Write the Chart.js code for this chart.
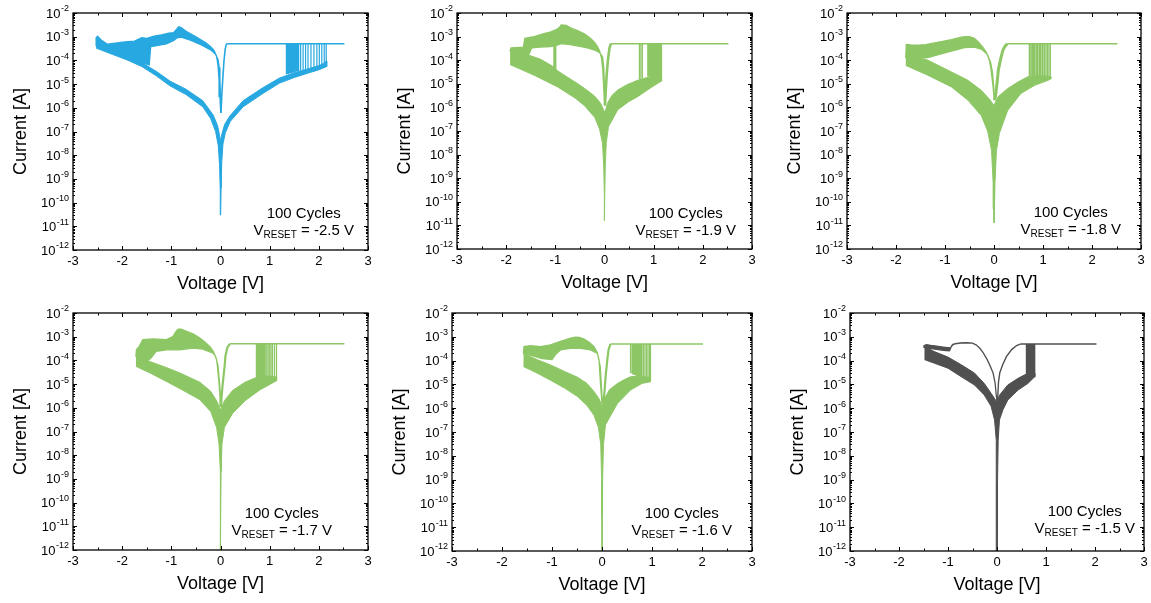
<!DOCTYPE html>
<html>
<head>
<meta charset="utf-8">
<title>Resistive switching I-V, 100 cycles</title>
<script src="https://cdn.jsdelivr.net/npm/chart.js@4.4.1/dist/chart.umd.min.js"></script>
<style>
  body { margin: 0; background: #fff; }
  #wrap { position: relative; width: 1151px; height: 603px; overflow: hidden; }
  #wrap canvas { position: absolute; }
</style>
</head>
<body>
<div id="wrap"></div>
<script>
// ---- shared values ----
const resetVoltages = [-2.5, -1.9, -1.8, -1.7, -1.6, -1.5];
const cycleCount = 100;
const complianceCurrent = 5e-4;
const complianceFrom = [0.12, 0.13, 0.27, 0.19, 0.17, 0.49];
const sweepTo = [2.52, 2.52, 2.52, 2.52, 2.02, 2.03];
const voltageTicks = [-3, -2, -1, 0, 1, 2, 3];
const currentDecades = [-2, -3, -4, -5, -6, -7, -8, -9, -10, -11, -12];

// ---- V_RESET = -2.5 V ----  [V, A]
const p1LrsHi = [[0.004, 6e-7], [-0.012, 3e-6], [-0.03, 1.5e-5], [-0.05, 6e-5], [-0.08, 1.5e-4], [-0.13, 2.6e-4], [-0.2, 3.8e-4], [-0.3, 5.6e-4], [-0.5, 1e-3], [-0.7, 1.7e-3], [-0.8, 2.4e-3], [-0.85, 2.6e-3], [-0.9, 2e-3], [-0.95, 1.5e-3], [-1.05, 1.4e-3], [-1.2, 1.2e-3], [-1.35, 1.05e-3], [-1.5, 8.5e-4], [-1.6, 9e-4], [-1.75, 6.5e-4], [-1.95, 6e-4], [-2.1, 5.5e-4], [-2.3, 4.8e-4], [-2.42, 7e-4], [-2.5, 1.05e-3], [-2.53, 9e-4], [-2.53, 4.2e-4]];
const p1LrsLo = [[0.008, 6e-7], [0.0, 3e-6], [-0.012, 1.5e-5], [-0.025, 5e-5], [-0.05, 1.1e-4], [-0.1, 1.8e-4], [-0.2, 2.8e-4], [-0.4, 4.6e-4], [-0.6, 7e-4], [-0.8, 9.5e-4], [-0.88, 9e-4], [-0.95, 7e-4], [-1.1, 5e-4], [-1.3, 4.2e-4], [-1.42, 3.8e-4], [-1.45, 6.5e-5], [-1.6, 8e-5], [-1.9, 1.45e-4], [-2.2, 2.4e-4], [-2.53, 4.2e-4]];
const p1HrsIn = [[-2.53, 4.2e-4], [-2.2, 2.4e-4], [-1.9, 1.45e-4], [-1.6, 8e-5], [-1.3, 3.4e-5], [-1.03, 1.35e-5], [-0.7, 6e-6], [-0.36, 2e-6], [-0.15, 5e-7], [-0.06, 1.8e-7], [-0.02, 7e-8], [0.0, 4e-8], [0.03, 8e-8], [0.085, 2e-7], [0.19, 4.5e-7], [0.46, 2e-6], [0.86, 7e-6], [1.2, 1.8e-5], [1.5, 3e-5], [1.8, 4.5e-5], [2.0, 6e-5], [2.1, 7.5e-5], [2.16, 9.5e-5]];
const p1HrsOut = [[-2.53, 3.3e-4], [-2.2, 1.8e-4], [-1.9, 1.05e-4], [-1.6, 5.5e-5], [-1.3, 2.2e-5], [-1.03, 8.5e-6], [-0.7, 3.6e-6], [-0.36, 1.1e-6], [-0.2, 3.5e-7], [-0.1, 1e-7], [-0.045, 2.5e-8], [-0.02, 4e-9], [-0.008, 3e-10], [-0.002, 3e-11], [0.004, 3e-11], [0.012, 4e-10], [0.025, 5e-9], [0.05, 3e-8], [0.1, 9e-8], [0.2, 2.7e-7], [0.46, 1.1e-6], [0.86, 4e-6], [1.2, 1.1e-5], [1.5, 1.9e-5], [1.8, 3e-5], [2.0, 4e-5], [2.16, 5.5e-5]];
const p1Dip = [[0.12, 5e-4], [0.095, 3e-4], [0.07, 9e-5], [0.045, 1.5e-5], [0.025, 3e-6], [0.01, 6e-7]];
const p1SetV = [1.34, 1.35, 1.36, 1.37, 1.38, 1.39, 1.4, 1.41, 1.42, 1.44, 1.45, 1.47, 1.48, 1.5, 1.51, 1.53, 1.55, 1.57, 1.59, 1.63, 1.68, 1.73, 1.78, 1.84, 1.9, 1.96, 2.01, 2.06, 2.11, 2.15];
const p1SetI = [2.6e-5, 2.6e-5, 2.7e-5, 2.7e-5, 2.7e-5, 2.8e-5, 2.8e-5, 2.8e-5, 2.9e-5, 2.9e-5, 3e-5, 3e-5, 3.1e-5, 3.1e-5, 3.2e-5, 3.3e-5, 3.4e-5, 3.4e-5, 3.5e-5, 3.7e-5, 3.9e-5, 4.1e-5, 4.3e-5, 4.6e-5, 4.9e-5, 5.2e-5, 5.6e-5, 6e-5, 6.8e-5, 7.8e-5];

// ---- V_RESET = -1.9 V ----
const p2LrsHi = [[0.0, 1.2e-6], [-0.015, 6e-6], [-0.035, 4e-5], [-0.06, 1.2e-4], [-0.1, 2.5e-4], [-0.15, 4e-4], [-0.21, 6e-4], [-0.3, 9e-4], [-0.41, 1.3e-3], [-0.55, 1.8e-3], [-0.68, 2.3e-3], [-0.78, 3e-3], [-0.88, 3.1e-3], [-0.92, 2.4e-3], [-0.96, 2.1e-3], [-1.09, 1.6e-3], [-1.25, 1.3e-3], [-1.43, 1e-3], [-1.62, 8.5e-4], [-1.65, 3.6e-4], [-1.9, 3.3e-4], [-1.92, 2.5e-4]];
const p2LrsLo = [[0.008, 1.2e-6], [-0.002, 8e-6], [-0.015, 5e-5], [-0.04, 1.4e-4], [-0.1, 2.1e-4], [-0.2, 2.7e-4], [-0.35, 3.3e-4], [-0.5, 3.9e-4], [-0.7, 4.6e-4], [-0.88, 5e-4], [-0.98, 4.2e-4], [-1.1, 3.8e-4], [-1.3, 3.6e-4], [-1.48, 3.3e-4], [-1.55, 1.6e-4], [-1.75, 2.1e-4], [-1.92, 2.5e-4]];
const p2HrsIn = [[-1.92, 2.8e-4], [-1.6, 1.8e-4], [-1.3, 1.1e-4], [-1.02, 5e-5], [-0.95, 3.5e-5], [-0.8, 2.2e-5], [-0.6, 1.2e-5], [-0.41, 6.5e-6], [-0.2, 3e-6], [-0.08, 1.5e-6], [-0.02, 8e-7], [0.01, 6e-7], [0.06, 1.5e-6], [0.15, 3.2e-6], [0.27, 5.5e-6], [0.45, 9e-6], [0.67, 1.4e-5], [0.85, 1.8e-5], [1.0, 2e-5], [1.16, 1.9e-5]];
const p2HrsOut = [[-1.92, 6.5e-5], [-1.43, 2.3e-5], [-0.95, 7.3e-6], [-0.6, 2.5e-6], [-0.41, 1.2e-6], [-0.2, 3.8e-7], [-0.1, 1.2e-7], [-0.04, 3e-8], [-0.015, 3e-9], [-0.005, 2e-10], [0.0, 1.6e-11], [0.005, 2e-10], [0.015, 3e-9], [0.035, 3e-8], [0.08, 1.5e-7], [0.27, 8e-7], [0.5, 1.8e-6], [0.67, 2.8e-6], [0.95, 7e-6], [1.1, 1.1e-5], [1.16, 1.3e-5]];
const p2Dip = [[0.13, 5e-4], [0.1, 3.2e-4], [0.07, 1e-4], [0.045, 2.5e-5], [0.025, 5e-6], [0.01, 1.2e-6]];
const p2SetV = [0.71, 0.74, 0.77, 0.88, 0.9, 0.92, 0.94, 0.96, 0.98, 1.0, 1.02, 1.04, 1.06, 1.08, 1.1, 1.12, 1.14, 1.16];
const p2SetI = [1.6e-5, 1.6e-5, 1.7e-5, 2e-5, 2e-5, 1.9e-5, 1.9e-5, 1.8e-5, 1.8e-5, 1.7e-5, 1.6e-5, 1.5e-5, 1.5e-5, 1.4e-5, 1.4e-5, 1.3e-5, 1.3e-5, 1.3e-5];
const p2ResetV = [-0.99, -1.01, -1.03];
const p2ResetHi = [4.3e-4, 4.1e-4, 4e-4];
const p2ResetLo = [4e-5, 4.5e-5, 5e-5];

// ---- V_RESET = -1.8 V ----
const p3LrsHi = [[0.005, 2e-6], [-0.02, 8e-6], [-0.06, 4e-5], [-0.1, 1.1e-4], [-0.16, 2.2e-4], [-0.23, 3.6e-4], [-0.32, 6e-4], [-0.4, 8.5e-4], [-0.5, 1e-3], [-0.58, 1e-3], [-0.67, 9.5e-4], [-0.87, 7.4e-4], [-1.05, 6.2e-4], [-1.21, 5.4e-4], [-1.4, 4.6e-4], [-1.55, 4.3e-4], [-1.7, 4.4e-4], [-1.79, 4.6e-4], [-1.8, 1.3e-4]];
const p3LrsLo = [[0.012, 2e-6], [-0.008, 8e-6], [-0.03, 3e-5], [-0.07, 8e-5], [-0.13, 1.7e-4], [-0.25, 2.9e-4], [-0.4, 3.6e-4], [-0.6, 3.4e-4], [-0.85, 2.5e-4], [-1.1, 1.8e-4], [-1.35, 1.3e-4], [-1.6, 1.2e-4], [-1.8, 1.3e-4]];
const p3HrsIn = [[-1.8, 1.9e-4], [-1.6, 1.4e-4], [-1.35, 1e-4], [-1.1, 5.5e-5], [-0.87, 3.2e-5], [-0.53, 1.4e-5], [-0.26, 5.3e-6], [-0.09, 2.2e-6], [0.0, 1.2e-6], [0.08, 2.8e-6], [0.28, 6.3e-6], [0.49, 1.2e-5], [0.69, 2e-5], [0.83, 2.3e-5], [1.0, 2.2e-5], [1.16, 2e-5]];
const p3HrsOut = [[-1.8, 6e-5], [-1.35, 2.3e-5], [-0.87, 7.4e-6], [-0.53, 2e-6], [-0.26, 4.5e-7], [-0.13, 1e-7], [-0.05, 1.5e-8], [-0.017, 6e-10], [-0.004, 5e-11], [0.0, 1.3e-11], [0.004, 5e-11], [0.02, 6e-10], [0.05, 1.5e-8], [0.11, 8e-8], [0.28, 7.5e-7], [0.55, 3.9e-6], [0.83, 8.6e-6], [1.1, 1.4e-5], [1.16, 1.6e-5]];
const p3Dip = [[0.27, 5e-4], [0.22, 3.8e-4], [0.18, 2.6e-4], [0.13, 1e-4], [0.09, 4e-5], [0.06, 1e-5], [0.03, 3e-6], [0.012, 2e-6]];
const p3SetV = [0.72, 0.74, 0.77, 0.79, 0.81, 0.83, 0.86, 0.88, 0.9, 0.93, 0.95, 0.98, 1.0, 1.03, 1.06, 1.09, 1.12, 1.15];
const p3SetI = [2e-5, 2.1e-5, 2.2e-5, 2.3e-5, 2.3e-5, 2.3e-5, 2.3e-5, 2.2e-5, 2.2e-5, 2.2e-5, 2.1e-5, 2.1e-5, 2e-5, 2e-5, 1.9e-5, 1.8e-5, 1.7e-5, 1.6e-5];

// ---- V_RESET = -1.7 V ----
const p4LrsHi = [[0.0, 1.1e-6], [-0.01, 3e-6], [-0.03, 1.1e-5], [-0.06, 5e-5], [-0.08, 1.1e-4], [-0.15, 2.5e-4], [-0.22, 3.9e-4], [-0.32, 6e-4], [-0.42, 8.8e-4], [-0.55, 1.3e-3], [-0.69, 1.7e-3], [-0.8, 2.1e-3], [-0.86, 2.1e-3], [-0.9, 1.7e-3], [-0.97, 1e-3], [-1.1, 7.5e-4], [-1.37, 8e-4], [-1.58, 7.5e-4], [-1.65, 4e-4], [-1.71, 2.8e-4], [-1.72, 1.5e-4]];
const p4LrsLo = [[0.01, 1.1e-6], [0.0, 3e-6], [-0.02, 1.1e-5], [-0.05, 6e-5], [-0.1, 1.5e-4], [-0.15, 2e-4], [-0.36, 3e-4], [-0.56, 3.3e-4], [-0.83, 2.8e-4], [-1.1, 2.8e-4], [-1.31, 2.4e-4], [-1.41, 1.3e-4], [-1.5, 9e-5], [-1.72, 1.5e-4]];
const p4HrsIn = [[-1.72, 1.6e-4], [-1.44, 9e-5], [-1.1, 5e-5], [-0.8, 2.8e-5], [-0.42, 1.2e-5], [-0.2, 5e-6], [-0.08, 2e-6], [0.0, 8e-7], [0.08, 2e-6], [0.25, 5.5e-6], [0.5, 1.2e-5], [0.7, 1.8e-5], [0.82, 2.2e-5], [0.95, 2.2e-5], [1.14, 2e-5]];
const p4HrsOut = [[-1.72, 5.6e-5], [-1.44, 3e-5], [-1.1, 1.3e-5], [-0.8, 6e-6], [-0.42, 2.2e-6], [-0.2, 7e-7], [-0.08, 1.5e-7], [-0.03, 3e-8], [-0.01, 2e-9], [-0.003, 5e-11], [-0.001, 8e-13], [0.003, 8e-13], [0.005, 5e-11], [0.012, 2e-9], [0.03, 3e-8], [0.08, 1.5e-7], [0.25, 6e-7], [0.5, 2e-6], [0.8, 5.7e-6], [0.93, 8e-6], [1.14, 1.4e-5]];
const p4Dip = [[0.19, 5e-4], [0.14, 3.5e-4], [0.1, 1.5e-4], [0.085, 6e-5], [0.06, 2e-5], [0.04, 8e-6], [0.02, 2.5e-6], [0.01, 1.1e-6]];
const p4SetV = [0.73, 0.75, 0.77, 0.79, 0.81, 0.83, 0.85, 0.87, 0.89, 0.91, 0.94, 0.97, 1.0, 1.03, 1.06, 1.1, 1.14];
const p4SetI = [1.8e-5, 1.9e-5, 2e-5, 2e-5, 2.1e-5, 2.2e-5, 2.2e-5, 2.2e-5, 2.2e-5, 2.1e-5, 2e-5, 1.9e-5, 1.8e-5, 1.7e-5, 1.6e-5, 1.5e-5, 1.4e-5];

// ---- V_RESET = -1.6 V ----
const p5LrsHi = [[0.0, 1.5e-6], [-0.01, 3e-6], [-0.03, 1.1e-5], [-0.06, 1.1e-4], [-0.1, 2.3e-4], [-0.16, 3.9e-4], [-0.25, 5.8e-4], [-0.36, 8e-4], [-0.45, 9.5e-4], [-0.53, 9.7e-4], [-0.63, 8.8e-4], [-0.83, 6.4e-4], [-1.03, 4.6e-4], [-1.23, 3.9e-4], [-1.43, 4.2e-4], [-1.56, 3.9e-4], [-1.57, 2e-4]];
const p5LrsLo = [[0.008, 1.5e-6], [0.0, 3e-6], [-0.015, 1.1e-5], [-0.035, 5.6e-5], [-0.09, 2e-4], [-0.23, 2.8e-4], [-0.43, 3.3e-4], [-0.63, 3.3e-4], [-0.83, 2.8e-4], [-0.93, 1.8e-4], [-1.0, 1.1e-4], [-1.2, 1.2e-4], [-1.4, 1.6e-4], [-1.57, 2e-4]];
const p5HrsIn = [[-1.57, 2e-4], [-1.3, 1.1e-4], [-1.03, 6.6e-5], [-0.75, 3.5e-5], [-0.49, 2e-5], [-0.3, 1.1e-5], [-0.16, 5e-6], [-0.06, 2.5e-6], [0.0, 1.2e-6], [0.05, 2.5e-6], [0.15, 6e-6], [0.31, 1.1e-5], [0.45, 1.6e-5], [0.57, 2.1e-5], [0.75, 2.2e-5], [0.97, 2e-5]];
const p5HrsOut = [[-1.57, 5.6e-5], [-1.3, 3e-5], [-1.03, 1.5e-5], [-0.75, 7e-6], [-0.49, 3.1e-6], [-0.3, 1.3e-6], [-0.16, 5e-7], [-0.07, 1.5e-7], [-0.025, 3e-8], [-0.008, 1e-9], [-0.002, 3e-11], [0.0, 8e-13], [0.003, 8e-13], [0.006, 3e-11], [0.012, 1e-9], [0.03, 3e-8], [0.07, 2e-7], [0.31, 1.6e-6], [0.57, 5.8e-6], [0.8, 1.1e-5], [0.97, 1.3e-5]];
const p5Dip = [[0.17, 5e-4], [0.13, 2.8e-4], [0.107, 1.1e-4], [0.085, 4e-5], [0.067, 1.5e-5], [0.05, 5e-6], [0.035, 2.2e-6], [0.01, 1.5e-6]];
const p5SetV = [0.57, 0.6, 0.62, 0.64, 0.66, 0.68, 0.7, 0.72, 0.74, 0.76, 0.78, 0.8, 0.83, 0.86, 0.89, 0.92, 0.95, 0.97];
const p5SetI = [3e-5, 2.8e-5, 2.6e-5, 2.5e-5, 2.4e-5, 2.3e-5, 2.2e-5, 2.2e-5, 2.1e-5, 2.1e-5, 2e-5, 2e-5, 1.9e-5, 1.8e-5, 1.7e-5, 1.6e-5, 1.5e-5, 1.4e-5];

// ---- V_RESET = -1.5 V ----
const p6LrsHi = [[0.0, 2e-6], [-0.015, 3.5e-6], [-0.04, 1.2e-5], [-0.08, 3e-5], [-0.14, 6e-5], [-0.2, 1.1e-4], [-0.28, 2.1e-4], [-0.35, 3.3e-4], [-0.42, 4.5e-4], [-0.5, 5.4e-4], [-0.62, 5.7e-4], [-0.75, 5.5e-4], [-0.85, 5.2e-4], [-0.9, 4.8e-4], [-0.95, 3.4e-4], [-1.1, 3.7e-4], [-1.3, 4.2e-4], [-1.44, 4.7e-4], [-1.49, 4.2e-4]];
const p6LrsLo = [[0.0, 2e-6], [-0.015, 3.5e-6], [-0.04, 1.2e-5], [-0.08, 3e-5], [-0.14, 6e-5], [-0.2, 1.1e-4], [-0.28, 2.1e-4], [-0.35, 3.3e-4], [-0.42, 4.5e-4], [-0.5, 5.4e-4], [-0.62, 5.6e-4], [-0.75, 5.4e-4], [-0.85, 5.1e-4], [-0.92, 4.4e-4], [-0.97, 2.6e-4], [-1.1, 2.7e-4], [-1.3, 3.1e-4], [-1.49, 3.6e-4]];
const p6HrsIn = [[-1.48, 3.9e-4], [-1.28, 2.4e-4], [-1.0, 1.4e-4], [-0.73, 6.7e-5], [-0.46, 3e-5], [-0.26, 1.1e-5], [-0.12, 4.2e-6], [-0.03, 2.2e-6], [0.0, 1.8e-6], [0.05, 3.5e-6], [0.22, 9.5e-6], [0.43, 1.8e-5], [0.56, 2.5e-5], [0.62, 2.8e-5], [0.77, 3e-5]];
const p6HrsOut = [[-1.48, 1.1e-4], [-1.28, 7.8e-5], [-1.0, 4.8e-5], [-0.73, 2.1e-5], [-0.46, 9.5e-6], [-0.26, 3.6e-6], [-0.12, 1.2e-6], [-0.05, 3.2e-7], [-0.02, 4.5e-8], [-0.01, 7e-10], [-0.004, 8e-13], [0.004, 8e-13], [0.01, 7e-10], [0.024, 4.5e-8], [0.05, 3.2e-7], [0.12, 8.5e-7], [0.22, 2.2e-6], [0.43, 5.8e-6], [0.63, 1.1e-5], [0.77, 2.1e-5]];
const p6Dip = [[0.49, 5e-4], [0.4, 4.3e-4], [0.3, 2.9e-4], [0.195, 1.5e-4], [0.12, 7e-5], [0.057, 3.1e-5], [0.03, 1.2e-5], [0.016, 3e-6], [0.005, 2e-6]];
const p6SetV = [0.6, 0.62, 0.64, 0.66, 0.68, 0.7, 0.72, 0.74, 0.76, 0.77];
const p6SetI = [2.6e-5, 2.5e-5, 2.4e-5, 2.3e-5, 2.3e-5, 2.2e-5, 2.2e-5, 2.1e-5, 2.1e-5, 2e-5];

const BLUE = '#27a8e0';
const GREEN = '#8dc765';
const GRAY = '#505050';
const FONT = '"Liberation Sans", Arial, Helvetica, sans-serif';

// canvas box, plot padding, colour and note placement for each panel
const panels = [
  { box: [0, 0, 384, 300], pad: { left: 73, top: 13, right: 16, bottom: 50 }, color: BLUE, dipWidth: 1.6, noteRight: 14, noteLift: 20,
    lrsHi: p1LrsHi, lrsLo: p1LrsLo, hrsIn: p1HrsIn, hrsOut: p1HrsOut, dip: p1Dip, setV: p1SetV, setI: p1SetI },
  { box: [384, 0, 384, 300], pad: { left: 73, top: 13, right: 16, bottom: 51 }, color: GREEN, dipWidth: 2.6, noteRight: 16, noteLift: 19,
    lrsHi: p2LrsHi, lrsLo: p2LrsLo, hrsIn: p2HrsIn, hrsOut: p2HrsOut, dip: p2Dip, setV: p2SetV, setI: p2SetI,
    resetV: p2ResetV, resetHi: p2ResetHi, resetLo: p2ResetLo },
  { box: [768, 0, 383, 300], pad: { left: 79, top: 13, right: 10, bottom: 51 }, color: GREEN, dipWidth: 3, noteRight: 20, noteLift: 20,
    lrsHi: p3LrsHi, lrsLo: p3LrsLo, hrsIn: p3HrsIn, hrsOut: p3HrsOut, dip: p3Dip, setV: p3SetV, setI: p3SetI },
  { box: [0, 300, 384, 303], pad: { left: 73, top: 13, right: 16, bottom: 53 }, color: GREEN, dipWidth: 2.2, noteRight: 36, noteLift: 20,
    lrsHi: p4LrsHi, lrsLo: p4LrsLo, hrsIn: p4HrsIn, hrsOut: p4HrsOut, dip: p4Dip, setV: p4SetV, setI: p4SetI },
  { box: [384, 300, 384, 303], pad: { left: 68, top: 13, right: 16, bottom: 52 }, color: GREEN, dipWidth: 2.2, noteRight: 20, noteLift: 21,
    lrsHi: p5LrsHi, lrsLo: p5LrsLo, hrsIn: p5HrsIn, hrsOut: p5HrsOut, dip: p5Dip, setV: p5SetV, setI: p5SetI },
  { box: [768, 300, 383, 303], pad: { left: 82, top: 13, right: 7, bottom: 52 }, color: GRAY, dipWidth: 1.4, noteRight: 9, noteLift: 23,
    lrsHi: p6LrsHi, lrsLo: p6LrsLo, hrsIn: p6HrsIn, hrsOut: p6HrsOut, dip: p6Dip, setV: p6SetV, setI: p6SetI }
];

const xy = list => list.map(([v, i]) => ({ x: v, y: i }));
const outline = (a, b) => xy(a.concat(b.slice().reverse()));
const verticals = (vs, from, to) => {
  const out = [];
  vs.forEach((v, k) => out.push({ x: v, y: from[k] }, { x: v, y: Array.isArray(to) ? to[k] : to }, { x: v, y: null }));
  return out;
};

// frame, inward ticks, tick labels, axis titles and the cycle note
const framePlugin = {
  id: 'frame',
  afterDraw(chart, _args, opts) {
    const { ctx, chartArea: a } = chart;
    const xs = chart.scales.x, ys = chart.scales.y;
    ctx.save();
    ctx.strokeStyle = '#000';
    ctx.fillStyle = '#000';
    ctx.lineWidth = 1;
    ctx.beginPath();
    const vTick = (px, len) => {
      ctx.moveTo(px, a.bottom); ctx.lineTo(px, a.bottom - len);
      ctx.moveTo(px, a.top); ctx.lineTo(px, a.top + len);
    };
    const hTick = (py, len) => {
      ctx.moveTo(a.left, py); ctx.lineTo(a.left + len, py);
      ctx.moveTo(a.right, py); ctx.lineTo(a.right - len, py);
    };
    voltageTicks.forEach((v, k) => {
      vTick(Math.round(xs.getPixelForValue(v)) + 0.5, 4);
      if (k < voltageTicks.length - 1) {
        vTick(Math.round(xs.getPixelForValue((v + voltageTicks[k + 1]) / 2)) + 0.5, 2.5);
      }
    });
    currentDecades.forEach(e => {
      hTick(Math.round(ys.getPixelForValue(Math.pow(10, e))) + 0.5, 4);
      if (e < -2) {
        for (let m = 2; m <= 9; m++) hTick(Math.round(ys.getPixelForValue(m * Math.pow(10, e))) + 0.5, 2);
      }
    });
    ctx.stroke();

    ctx.lineWidth = 1.3;
    ctx.strokeRect(a.left, a.top, a.right - a.left, a.bottom - a.top);

    // voltage labels
    ctx.font = '13px ' + FONT;
    ctx.textAlign = 'center';
    ctx.textBaseline = 'middle';
    voltageTicks.forEach(v => ctx.fillText(String(v), xs.getPixelForValue(v), a.bottom + 11));

    // current labels as 10 with a raised exponent
    ctx.textAlign = 'right';
    currentDecades.forEach(e => {
      const py = ys.getPixelForValue(Math.pow(10, e));
      ctx.font = '9px ' + FONT;
      const sup = String(e);
      const w = ctx.measureText(sup).width;
      ctx.fillText(sup, a.left - 4, py - 4);
      ctx.font = '13px ' + FONT;
      ctx.fillText('10', a.left - 4.5 - w, py + 1);
    });

    // axis titles
    ctx.font = '18px ' + FONT;
    ctx.textAlign = 'center';
    ctx.fillText('Voltage [V]', (a.left + a.right) / 2, a.bottom + 34);
    ctx.save();
    ctx.translate(a.left - 52, (a.top + a.bottom) / 2);
    ctx.rotate(-Math.PI / 2);
    ctx.fillText('Current [A]', 0, 0);
    ctx.restore();

    // note: cycle count and reset voltage
    const right = a.right - opts.noteRight;
    const baseY = a.bottom - opts.noteLift + 5;
    const tail = ' = ' + opts.vReset.toFixed(1) + ' V';
    ctx.textBaseline = 'alphabetic';
    ctx.textAlign = 'left';
    ctx.font = '15px ' + FONT;
    const wV = ctx.measureText('V').width;
    const wTail = ctx.measureText(tail).width;
    ctx.font = '10px ' + FONT;
    const wSub = ctx.measureText('RESET').width;
    const total = wV + wSub + wTail;
    const start = right - total;
    ctx.font = '15px ' + FONT;
    ctx.fillText('V', start, baseY);
    ctx.fillText(tail, start + wV + wSub, baseY);
    ctx.font = '10px ' + FONT;
    ctx.fillText('RESET', start + wV, baseY + 3);
    ctx.font = '15px ' + FONT;
    ctx.textAlign = 'center';
    ctx.fillText(cycleCount + ' Cycles', start + total / 2, baseY - 17);
    ctx.restore();
  }
};

const wrap = document.getElementById('wrap');

panels.forEach((p, k) => {
  const [left, top, width, height] = p.box;
  const canvas = document.createElement('canvas');
  canvas.width = width;
  canvas.height = height;
  canvas.style.left = left + 'px';
  canvas.style.top = top + 'px';
  canvas.style.width = width + 'px';
  canvas.style.height = height + 'px';
  wrap.appendChild(canvas);

  const line = (data, width, extra) => Object.assign({
    data, borderColor: p.color, backgroundColor: p.color, borderWidth: width,
    pointRadius: 0, fill: false
  }, extra || {});

  const datasets = [
    line(outline(p.hrsIn, p.hrsOut), 1, { fill: 'shape' }),
    line(outline(p.lrsHi, p.lrsLo), 1.3, { fill: 'shape' }),
    line(verticals(p.setV, p.setI, complianceCurrent), 1.2),
    line(xy(p.dip), p.dipWidth),
    line([{ x: complianceFrom[k], y: complianceCurrent }, { x: sweepTo[k], y: complianceCurrent }], 1.5)
  ];
  if (p.resetV) datasets.push(line(verticals(p.resetV, p.resetHi, p.resetLo), 1.2));

  new Chart(canvas, {
    type: 'line',
    data: { datasets },
    options: {
      responsive: false,
      animation: false,
      events: [],
      layout: { padding: p.pad },
      elements: { line: { tension: 0 }, point: { radius: 0 } },
      scales: {
        x: { type: 'linear', min: -3, max: 3, display: false },
        y: { type: 'logarithmic', min: 1e-12, max: 1e-2, display: false }
      },
      plugins: {
        legend: { display: false },
        tooltip: { enabled: false },
        frame: { noteRight: p.noteRight, noteLift: p.noteLift, vReset: resetVoltages[k] }
      }
    },
    plugins: [framePlugin]
  });
});
</script>
</body>
</html>
